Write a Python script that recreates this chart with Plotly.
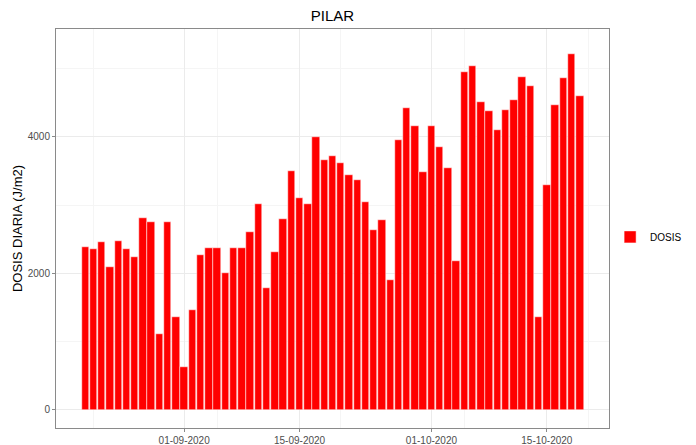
import plotly.graph_objects as go
import pandas as pd

dates = pd.date_range("2020-08-20", "2020-10-19", freq="D")
dosis = [2386, 2362, 2460, 2093, 2479, 2352, 2235, 2817, 2758, 1110,
         2758, 1359, 631, 1467, 2264, 2372, 2367, 2010, 2372, 2377,
         2601, 3022, 1790, 2308, 2802, 3496, 3100, 3017, 3995, 3658,
         3721, 3619, 3447, 3374, 3042, 2631, 2787, 1902, 3956, 4430,
         4161, 3487, 4166, 3848, 3545, 2176, 4949, 5042, 4518, 4372,
         4098, 4396, 4538, 4870, 4748, 1369, 3296, 4469, 4865, 5217,
         4601]
tick_dates = ["2020-09-01", "2020-09-15", "2020-10-01", "2020-10-15"]
tick_labels = ["01-09-2020", "15-09-2020", "01-10-2020", "15-10-2020"]
y_ticks = [0, 2000, 4000]

DAY = 86400000
fig = go.Figure()
fig.add_trace(go.Bar(
    x=dates, y=dosis, name="DOSIS",
    width=[0.9 * DAY] * len(dates),
    marker=dict(color="#FF0000", line=dict(color="white", width=0.5)),
    showlegend=True,
))

grid = "#ebebeb"
minor_grid = "#f5f5f5"
border = "#8a8a8a"
W, H = 688, 437
fig.update_layout(
    width=W, height=H,
    margin=dict(l=48, r=87, t=21, b=17, autoexpand=False),
    paper_bgcolor="white", plot_bgcolor="white",
    font=dict(family="Liberation Sans, Arial, sans-serif", color="#4d4d4d", size=10),
    title=dict(text="PILAR", x=0.5, xref="paper", xanchor="center",
               y=1 - 8 / H, yanchor="middle",
               font=dict(size=15, color="black")),
    bargap=0,
    showlegend=True,
    legend=dict(x=1.002, xanchor="left", y=0.479, yanchor="middle",
                font=dict(size=10, color="black"), bgcolor="rgba(0,0,0,0)"),
    xaxis=dict(
        type="date", automargin=False,
        range=["2020-08-16 10:48", "2020-10-22 13:00"],
        tickvals=tick_dates, ticktext=tick_labels,
        showgrid=True, gridcolor=grid, gridwidth=1,
        ticks="outside", ticklen=3, tickcolor=border,
        showline=True, linecolor=border, linewidth=1, mirror=True,
        zeroline=False,
        minor=dict(tick0="2020-08-21", dtick=15 * DAY, showgrid=True,
                   gridcolor=minor_grid, gridwidth=1, ticks=""),
        tickfont=dict(size=10, color="#4d4d4d"),
    ),
    yaxis=dict(
        automargin=False,
        range=[-264, 5580],
        tickvals=y_ticks,
        showgrid=True, gridcolor=grid, gridwidth=1,
        ticks="outside", ticklen=3, tickcolor=border,
        showline=True, linecolor=border, linewidth=1, mirror=True,
        zeroline=False,
        minor=dict(tick0=0, dtick=1000, showgrid=True,
                   gridcolor=minor_grid, gridwidth=1, ticks=""),
        title=dict(text="DOSIS DIARIA (J/m2)", font=dict(size=13, color="black"), standoff=2),
        tickfont=dict(size=10, color="#4d4d4d"),
    ),
)

fig.write_html("out.html")
